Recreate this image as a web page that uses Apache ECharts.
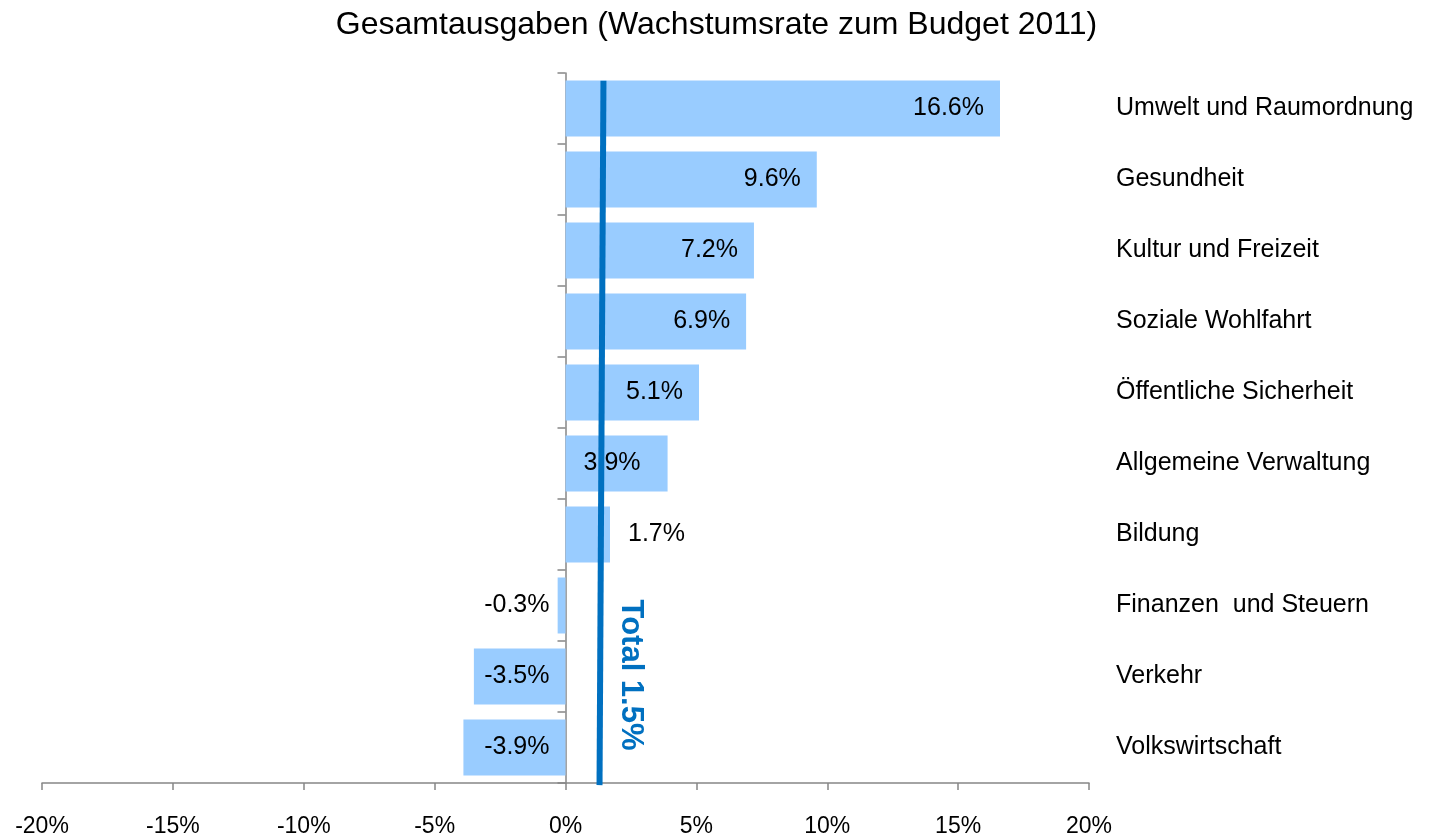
<!DOCTYPE html>
<html>
<head>
<meta charset="utf-8">
<script src="https://cdn.jsdelivr.net/npm/echarts@6/dist/echarts.min.js"></script>
<style>
  html, body { margin: 0; padding: 0; background: #fff; }
  #chart { width: 1433px; height: 838px; }
</style>
</head>
<body>
<div id="chart"></div>
<script>
// Wachstumsrate der Gesamtausgaben nach Bereich, in %
const categories = [
  "Umwelt und Raumordnung",
  "Gesundheit",
  "Kultur und Freizeit",
  "Soziale Wohlfahrt",
  "Öffentliche Sicherheit",
  "Allgemeine Verwaltung",
  "Bildung",
  "Finanzen  und Steuern",
  "Verkehr",
  "Volkswirtschaft"
];
const growth = [16.6, 9.6, 7.2, 6.9, 5.1, 3.9, 1.7, -0.3, -3.5, -3.9];

const totalValue = 1.5;
// the hand-drawn total line leans slightly: [x at bottom, x at top]
const totalLineX = [1.3, 1.45];

const xTicks = { min: -20, max: 20, step: 5 };

const font = "'Liberation Sans', Arial, sans-serif";

// label placement like the original
function labelFor(v, name) {
  if (name === "Bildung") return { position: "right", distance: 18 };
  if (name === "Allgemeine Verwaltung") return { position: "insideRight", distance: 27 };
  return { position: "insideRight", distance: 16 };
}

const barData = growth.map((v, i) => ({
  value: v,
  label: labelFor(v, categories[i])
}));

const chart = echarts.init(document.getElementById("chart"));
chart.setOption({
  animation: false,
  title: {
    text: "Gesamtausgaben (Wachstumsrate zum Budget 2011)",
    left: "center",
    top: 4,
    textStyle: { fontFamily: font, fontSize: 32, fontWeight: "normal", color: "#000" }
  },
  grid: { left: 42, right: 344, top: 73, bottom: 54 },
  xAxis: {
    type: "value",
    min: xTicks.min,
    max: xTicks.max,
    interval: xTicks.step,
    axisLine: { show: true, lineStyle: { color: "#868686", width: 1.5 } },
    axisTick: { show: true, length: 7, lineStyle: { color: "#868686", width: 1.5 } },
    splitLine: { show: false },
    axisLabel: {
      formatter: "{value}%",
      fontFamily: font,
      fontSize: 23,
      color: "#000",
      margin: 32
    }
  },
  yAxis: [
    {
      type: "category",
      data: categories,
      inverse: true,
      axisLine: { show: true, onZero: true, lineStyle: { color: "#868686", width: 1.5 } },
      axisTick: { show: true, length: 8, lineStyle: { color: "#868686", width: 1.5 } },
      axisLabel: { show: false }
    },
    {
      type: "category",
      data: categories,
      inverse: true,
      position: "right",
      axisLine: { show: false, onZero: false },
      axisTick: { show: false },
      axisLabel: {
        align: "left",
        margin: 27,
        fontFamily: font,
        fontSize: 25,
        color: "#000"
      }
    },
    {
      type: "value",
      min: 0,
      max: 1,
      show: false
    }
  ],
  series: [
    {
      type: "bar",
      yAxisIndex: 0,
      data: barData,
      barWidth: 56,
      itemStyle: { color: "#99CCFF" },
      label: {
        show: true,
        formatter: (p) => p.value.toFixed(1) + "%",
        fontFamily: font,
        fontSize: 25,
        color: "#000"
      }
    },
    {
      type: "line",
      yAxisIndex: 2,
      data: [[totalLineX[0], -0.003], [totalLineX[1], 0.989]],
      symbol: "none",
      lineStyle: { color: "#0070C0", width: 6 },
      z: 5
    }
  ],
  graphic: [
    {
      type: "text",
      x: 631,
      y: 675,
      rotation: -Math.PI / 2,
      style: {
        text: "Total " + totalValue.toFixed(1) + "%",
        fontFamily: font,
        fontSize: 31,
        fontWeight: "bold",
        fill: "#0070C0",
        textAlign: "center",
        textVerticalAlign: "middle"
      }
    }
  ]
});
</script>
</body>
</html>
